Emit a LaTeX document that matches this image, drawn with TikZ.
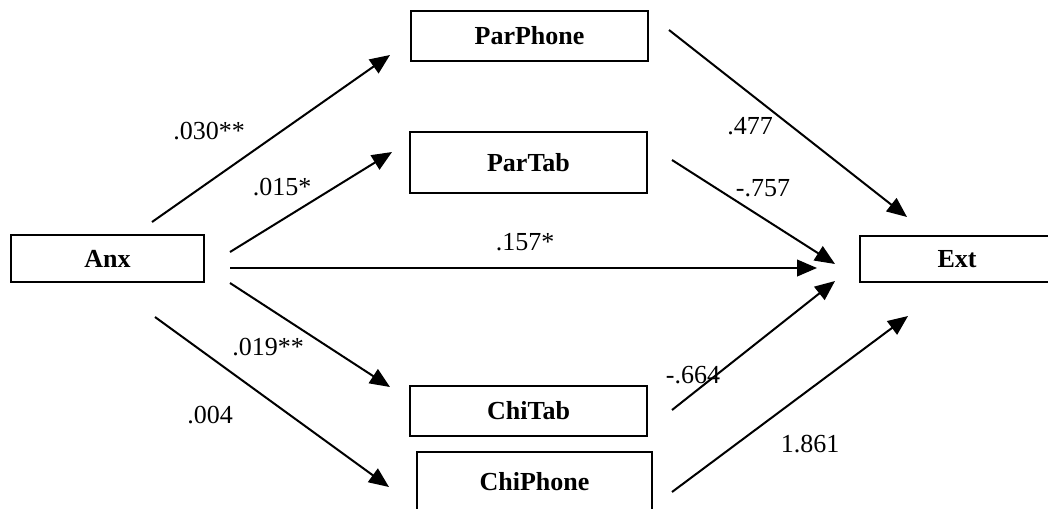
\documentclass[tikz,border=0pt]{standalone}
\usepackage{fontspec}
\setmainfont{Liberation Serif}
\usetikzlibrary{arrows.meta}
\tikzset{
  box/.style={draw, line width=1.9pt, inner sep=0pt, font=\fontsize{19.5}{23}\selectfont\bfseries},
  lbl/.style={inner sep=0pt, font=\fontsize{19.5}{23}\selectfont},
  arr/.style={line width=1.5pt, -{Triangle[length=15pt,width=12.5pt]}}
}
\begin{document}
\begin{tikzpicture}[x=0.75pt,y=-0.75pt]
\path[use as bounding box] (0,0) rectangle (1048,508);
\clip (0,0) rectangle (1048,508);
% boxes
\node[box, minimum width=144.75pt, minimum height=35.25pt] (anx) at (107.5,258.5) {Anx};
\node[box, minimum width=177.75pt, minimum height=37.5pt] (parphone) at (529.5,36) {ParPhone};
\node[box, minimum width=177.75pt, minimum height=45.75pt] (partab) at (528.5,162.5) {ParTab};
\node[box, minimum width=177.75pt, minimum height=37.5pt] (chitab) at (528.5,411) {ChiTab};
\node[box, minimum width=176.25pt, minimum height=45pt] (chiphone) at (534.5,482) {ChiPhone};
\node[box, minimum width=145.5pt, minimum height=34.5pt] (ext) at (957,259) {Ext};
% connector ends
\coordinate (a1s) at (152,222); \coordinate (a1e) at (390,55);
\coordinate (a2s) at (230,252); \coordinate (a2e) at (392,152);
\coordinate (a3s) at (230,268); \coordinate (a3e) at (817,268);
\coordinate (a4s) at (230,283); \coordinate (a4e) at (390,387);
\coordinate (a5s) at (155,317); \coordinate (a5e) at (389,487);
\coordinate (b1s) at (669,30);  \coordinate (b1e) at (907,217);
\coordinate (b2s) at (672,160); \coordinate (b2e) at (835,264);
\coordinate (b3s) at (672,410); \coordinate (b3e) at (835,281);
\coordinate (b4s) at (672,492); \coordinate (b4e) at (908,316);
% connectors
\draw[arr] (a1s) -- (a1e);
\draw[arr] (a2s) -- (a2e);
\draw[arr] (a3s) -- (a3e);
\draw[arr] (a4s) -- (a4e);
\draw[arr] (a5s) -- (a5e);
\draw[arr] (b1s) -- (b1e);
\draw[arr] (b2s) -- (b2e);
\draw[arr] (b3s) -- (b3e);
\draw[arr] (b4s) -- (b4e);
% labels
\node[lbl] (l1) at (209,131) {.030**};
\node[lbl] (l2) at (282,187) {.015*};
\node[lbl] (l3) at (525,242) {.157*};
\node[lbl] (l4) at (268,347) {.019**};
\node[lbl] (l5) at (210,415) {.004};
\node[lbl] (l6) at (750,126) {.477};
\node[lbl] (l7) at (763,188) {-.757};
\node[lbl] (l8) at (693,375) {-.664};
\node[lbl] (l9) at (810,444) {1.861};
\end{tikzpicture}
\end{document}
